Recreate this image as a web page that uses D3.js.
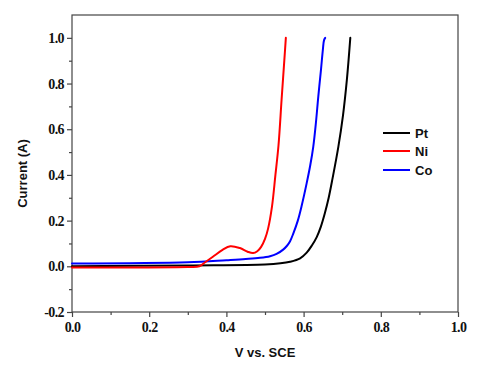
<!DOCTYPE html>
<html><head><meta charset="utf-8">
<script src="https://cdn.jsdelivr.net/npm/d3@7"></script>
<style>body{margin:0;background:#fff}</style>
</head><body><svg id="c" width="479" height="370"></svg>
<script>
const seriesNames = ["Pt", "Ni", "Co"];
const seriesColors = ["#000000", "#ff0000", "#0000ff"];
const ptV = [0.0, 0.3, 0.5, 0.54, 0.565, 0.591, 0.608, 0.621, 0.634, 0.645, 0.655, 0.665, 0.675, 0.69, 0.702, 0.712, 0.721];
const ptI = [0.0, 0.004, 0.008, 0.013, 0.02, 0.035, 0.06, 0.09, 0.128, 0.175, 0.232, 0.3, 0.385, 0.523, 0.66, 0.815, 1.0];
const niV = [0.0, 0.3, 0.33, 0.345, 0.365, 0.39, 0.41, 0.435, 0.455, 0.469, 0.48, 0.49, 0.5, 0.508, 0.518, 0.527, 0.535, 0.543, 0.55, 0.554];
const niI = [-0.005, -0.003, 0.0, 0.018, 0.042, 0.072, 0.088, 0.08, 0.064, 0.058, 0.066, 0.085, 0.12, 0.165, 0.26, 0.4, 0.53, 0.73, 0.9, 1.0];
const coV = [0.0, 0.3, 0.4, 0.45, 0.487, 0.513, 0.53, 0.547, 0.557, 0.565, 0.573, 0.585, 0.595, 0.608, 0.617, 0.625, 0.632, 0.638, 0.645, 0.65, 0.653, 0.656];
const coI = [0.012, 0.018, 0.027, 0.032, 0.037, 0.044, 0.054, 0.073, 0.09, 0.11, 0.142, 0.2, 0.265, 0.364, 0.44, 0.523, 0.63, 0.742, 0.86, 0.95, 0.99, 1.0];
const xTicks = [0, 0.2, 0.4, 0.6, 0.8, 1.0];
const yTicks = [-0.2, 0, 0.2, 0.4, 0.6, 0.8, 1.0];
const xMinor = [0.1, 0.3, 0.5, 0.7, 0.9];
const yMinor = [-0.1, 0.1, 0.3, 0.5, 0.7, 0.9];

const svg = d3.select("#c");
const L = 72, R = 458, T = 15, B = 312;
const x = d3.scaleLinear().domain([0, 1]).range([L, R]);
const y = d3.scaleLinear().domain([-0.2, 1.1]).range([B, T]);
const axisColor = "#444";

svg.append("rect").attr("x", L).attr("y", T).attr("width", R - L).attr("height", B - T)
  .attr("fill", "none").attr("stroke", axisColor).attr("stroke-width", 1.2);

const fmt = d => d3.format(".1f")(d).replace("\u2212", "-");
const gx = svg.append("g").attr("transform", `translate(0,${B})`)
  .call(d3.axisBottom(x).tickValues(xTicks).tickFormat(fmt).tickSize(5).tickPadding(5));
const gxm = svg.append("g").attr("transform", `translate(0,${B})`)
  .call(d3.axisBottom(x).tickValues(xMinor).tickFormat("").tickSize(3));
const gy = svg.append("g").attr("transform", `translate(${L},0)`)
  .call(d3.axisLeft(y).tickValues(yTicks).tickFormat(fmt).tickSize(5).tickPadding(3));
const gym = svg.append("g").attr("transform", `translate(${L},0)`)
  .call(d3.axisLeft(y).tickValues(yMinor).tickFormat("").tickSize(3));
[gx, gxm, gy, gym].forEach(g => {
  g.attr("font-family", "Liberation Serif").attr("font-size", 14).attr("font-weight", "bold");
  g.select(".domain").remove();
  g.selectAll("line").attr("stroke", axisColor).attr("stroke-width", 1.2);
  g.selectAll("text").attr("fill", "#111")
    .style("font-family", "'Liberation Serif', Tinos, 'Times New Roman', 'DejaVu Serif', serif")
    .style("letter-spacing", "-0.6px");
});

svg.append("text").attr("x", (L + R) / 2).attr("y", 357).attr("text-anchor", "middle")
  .style("font-family", "'Liberation Sans', Arial, sans-serif").style("font-weight", "bold").style("font-size", "13px")
  .attr("fill", "#111").text("V vs. SCE");
svg.append("text").attr("transform", `translate(27,${(T + B) / 2 + 10}) rotate(-90)`).attr("text-anchor", "middle")
  .style("font-family", "'Liberation Sans', Arial, sans-serif").style("font-weight", "bold").style("font-size", "13px")
  .attr("fill", "#111").text("Current (A)");

const data = [
  ptV.map((v, i) => [v, ptI[i]]),
  niV.map((v, i) => [v, niI[i]]),
  coV.map((v, i) => [v, coI[i]])
];
const line = d3.line().x(d => x(d[0])).y(d => y(d[1])).curve(d3.curveCatmullRom.alpha(0.5));
[0, 2, 1].forEach(k => {
  svg.append("path").attr("d", line(data[k])).attr("fill", "none")
    .attr("stroke", seriesColors[k]).attr("stroke-width", 2).attr("stroke-linejoin", "round").attr("stroke-linecap", "round");
});

const ly = [133, 151, 170];
seriesNames.forEach((n, i) => {
  svg.append("line").attr("x1", 383).attr("x2", 410).attr("y1", ly[i]).attr("y2", ly[i])
    .attr("stroke", seriesColors[i]).attr("stroke-width", 2);
  svg.append("text").attr("x", 415).attr("y", ly[i] + 5)
    .style("font-family", "'Liberation Sans', Arial, sans-serif").style("font-weight", "bold").style("font-size", "13px")
    .attr("fill", "#111").text(n);
});
</script></body></html>
